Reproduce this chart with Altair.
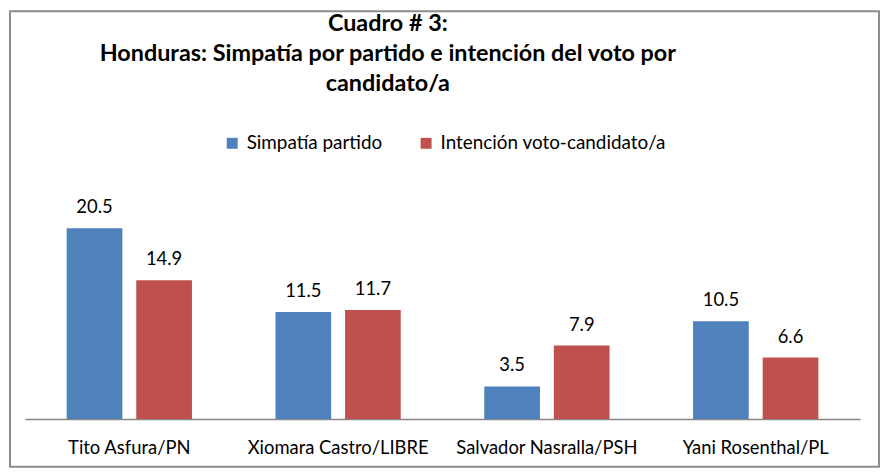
import altair as alt
import pandas as pd

candidatos = ["Tito Asfura/PN", "Xiomara Castro/LIBRE", "Salvador Nasralla/PSH", "Yani Rosenthal/PL"]
series = ["Simpatía partido", "Intención voto-candidato/a"]
simpatia = [20.5, 11.5, 3.5, 10.5]
intencion = [14.9, 11.7, 7.9, 6.6]
colores = ["#4F81BD", "#C0504D"]
titulo = ["Cuadro # 3:", "Honduras: Simpatía por partido e intención del voto por", "candidato/a"]

rows = []
for c, a, b in zip(candidatos, simpatia, intencion):
    rows.append({"cand": c, "serie": series[0], "valor": a})
    rows.append({"cand": c, "serie": series[1], "valor": b})
df = pd.DataFrame(rows)

FONT = "Lato"

x = alt.X("cand:N", sort=candidatos, title=None,
          scale=alt.Scale(paddingInner=0.4, paddingOuter=0.2),
          axis=alt.Axis(labelAngle=0, ticks=False, domainColor="#868686", domainWidth=1.5,
                        labelFontSize=18.5, labelColor="#000000", labelFont=FONT, labelPadding=20,
                        labelLimit=0))
xo = alt.XOffset("serie:N", sort=series, scale=alt.Scale(paddingInner=0.2, paddingOuter=0))
y = alt.Y("valor:Q", scale=alt.Scale(domain=[0, 25]), axis=None)

bars = alt.Chart(df).mark_bar().encode(
    x=x, xOffset=xo, y=y,
    color=alt.Color("serie:N", sort=series, scale=alt.Scale(domain=series, range=colores),
                    legend=alt.Legend(title=None, orient="none", direction="horizontal",
                                      legendX=199, legendY=-53, symbolType="square", symbolSize=121,
                                      labelFontSize=19, labelFont=FONT, labelColor="#000000",
                                      labelOffset=5, labelLimit=0, columnPadding=34,
                                      symbolStrokeWidth=0)),
)

labels = alt.Chart(df).mark_text(baseline="alphabetic", dy=-15, fontSize=18.5, font=FONT, color="#000000").encode(
    x=x, xOffset=xo, y=y, text=alt.Text("valor:Q", format=".1f"),
)

tdf = pd.DataFrame({"t": titulo, "i": list(range(len(titulo)))})
title_marks = alt.Chart(tdf).mark_text(fontSize=23.5, font=FONT, fontWeight="bold", color="#000000",
                                       baseline="middle", align="center").encode(
    x=alt.value(365),
    y=alt.Y("i:Q", axis=None, scale=alt.Scale(domain=[0, 2], range=[-163, -103])),
    text="t:N",
)

border = alt.Chart(pd.DataFrame({"k": [0]})).mark_rect(fillOpacity=0, stroke="#8c8c8c", strokeWidth=2).encode(
    x=alt.value(-15), x2=alt.value(859), y=alt.value(-176), y2=alt.value(282)
)

chart = alt.layer(border, bars, labels, title_marks).resolve_scale(y="independent").properties(
    width=840, height=234,
    padding={"left": 17, "top": 178, "right": 21, "bottom": 50},
    autosize=alt.AutoSizeParams(type="none"),
).configure(background="white").configure_view(strokeWidth=0, stroke=None)

chart.save("out.html", embed_options={"renderer": "svg", "actions": False})
